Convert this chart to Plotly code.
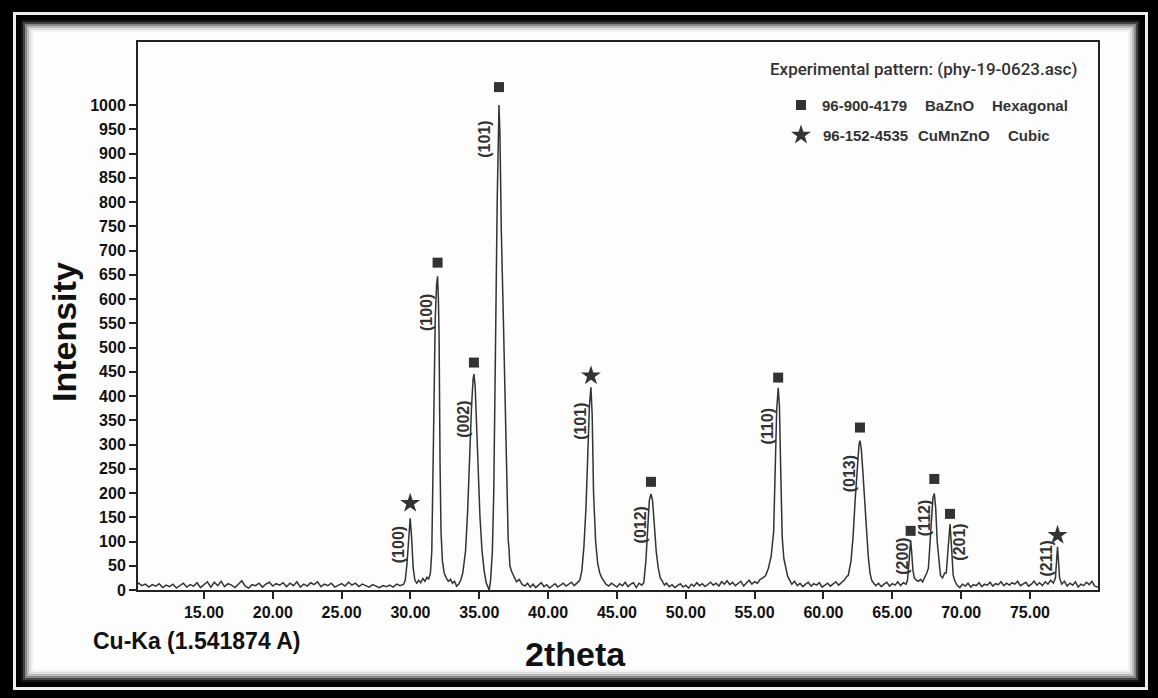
import plotly.graph_objects as go

# ---------------- DATA ----------------
bg_a = [(10.21, 12), (10.25, 14), (10.5, 9), (10.75, 12), (11.0, 6), (11.25, 11), (11.5, 8), (11.75, 13),
        (12.0, 5), (12.25, 10), (12.5, 7), (12.75, 12), (13.0, 4), (13.25, 9), (13.5, 14), (13.75, 6),
        (14.0, 11), (14.25, 8), (14.5, 15), (14.75, 5), (15.0, 12), (15.25, 17), (15.5, 6), (15.75, 16),
        (16.0, 9), (16.25, 18), (16.5, 7), (16.75, 13), (17.0, 10), (17.25, 5), (17.5, 12), (17.75, 19),
        (18.0, 8), (18.25, 4), (18.5, 11), (18.75, 9), (19.0, 14), (19.25, 6), (19.5, 12), (19.75, 16),
        (20.0, 8), (20.25, 13), (20.5, 10), (20.75, 15), (21.0, 7), (21.25, 14), (21.5, 9), (21.75, 17),
        (22.0, 6), (22.25, 12), (22.5, 8), (22.75, 15), (23.0, 11), (23.25, 17), (23.5, 7), (23.75, 12),
        (24.0, 9), (24.25, 14), (24.5, 6), (24.75, 10), (25.0, 13), (25.25, 8), (25.5, 16), (25.75, 10),
        (26.0, 14), (26.25, 7), (26.5, 12), (26.75, 9), (27.0, 6), (27.25, 11), (27.5, 8), (27.75, 5),
        (28.0, 9), (28.25, 7), (28.5, 10), (28.75, 6), (29.0, 12), (29.25, 9)]
pk_29 = [(29.5, 12), (29.62, 20), (29.75, 55), (29.87, 115), (29.98, 148), (30.08, 110), (30.2, 45),
         (30.32, 20), (30.45, 14), (30.6, 20), (30.75, 15), (30.9, 24), (31.05, 18), (31.2, 26), (31.32, 22)]
pk_31 = [(31.45, 35), (31.55, 80), (31.64, 250), (31.72, 450), (31.8, 560), (31.9, 630), (31.97, 647),
         (32.03, 600), (32.08, 522), (32.15, 260), (32.22, 120), (32.32, 60), (32.45, 35), (32.6, 25),
         (32.75, 18), (32.9, 22), (33.05, 14), (33.2, 18), (33.35, 8), (33.5, 12), (33.65, 20)]
pk_34 = [(33.8, 35), (34.0, 80), (34.15, 160), (34.3, 290), (34.44, 380), (34.55, 435), (34.61, 445),
         (34.7, 420), (34.8, 340), (34.92, 254), (35.05, 150), (35.2, 80), (35.35, 40), (35.5, 15),
         (35.62, 4), (35.72, 0)]
pk_36 = [(35.82, 20), (35.95, 80), (36.05, 200), (36.12, 330), (36.2, 557), (36.3, 800), (36.38, 960),
         (36.43, 1000), (36.5, 940), (36.6, 740), (36.75, 557), (36.85, 420), (36.93, 310), (37.0, 170),
         (37.05, 115), (37.1, 103), (37.16, 85), (37.22, 50), (37.35, 38), (37.5, 28), (37.7, 17),
         (37.9, 22), (38.1, 12)]
bg_b = [(38.3, 8), (38.5, 14), (38.7, 6), (38.9, 12), (39.1, 5), (39.3, 10), (39.5, 15), (39.7, 7),
        (39.9, 11), (40.1, 4), (40.3, 9), (40.5, 13), (40.7, 6), (40.9, 10), (41.1, 14), (41.3, 8),
        (41.5, 12), (41.7, 16), (41.9, 9), (42.1, 15), (42.3, 20)]
pk_43 = [(42.45, 40), (42.6, 90), (42.75, 170), (42.9, 290), (43.0, 380), (43.11, 418), (43.2, 360),
         (43.3, 200), (43.45, 100), (43.6, 55), (43.75, 35), (43.9, 25), (44.05, 18)]
bg_c = [(44.2, 12), (44.4, 8), (44.6, 14), (44.8, 10), (45.0, 6), (45.2, 13), (45.4, 9), (45.6, 16),
        (45.8, 7), (46.0, 12), (46.2, 15), (46.4, 5), (46.6, 14), (46.8, 10)]
pk_47 = [(46.95, 15), (47.1, 60), (47.22, 130), (47.35, 185), (47.47, 198), (47.58, 185), (47.7, 140),
         (47.85, 80), (48.0, 45), (48.15, 25), (48.3, 18), (48.45, 10)]
bg_d = [(48.6, 14), (48.8, 7), (49.0, 11), (49.2, 5), (49.4, 9), (49.6, 13), (49.8, 6), (50.0, 10),
        (50.2, 4), (50.4, 12), (50.6, 8), (50.8, 15), (51.0, 9), (51.2, 13), (51.4, 7), (51.6, 11),
        (51.8, 16), (52.0, 10), (52.2, 14), (52.4, 8), (52.6, 17), (52.8, 12), (53.0, 19), (53.2, 11),
        (53.4, 16), (53.6, 9), (53.8, 14), (54.0, 18), (54.2, 8), (54.4, 13), (54.6, 20), (54.8, 12),
        (55.0, 17), (55.2, 14), (55.4, 22), (55.6, 25)]
pk_56 = [(55.8, 30), (56.0, 45), (56.2, 70), (56.38, 120), (56.5, 230), (56.6, 370), (56.71, 417),
         (56.8, 380), (56.9, 240), (57.0, 110), (57.12, 65), (57.25, 45), (57.4, 28), (57.55, 20)]
bg_e = [(57.7, 12), (57.9, 18), (58.1, 9), (58.3, 14), (58.5, 7), (58.7, 12), (58.9, 16), (59.1, 8),
        (59.3, 13), (59.5, 10), (59.7, 15), (59.9, 6), (60.1, 11), (60.3, 14), (60.5, 8), (60.7, 12),
        (60.9, 17), (61.1, 10), (61.3, 15), (61.5, 20), (61.7, 28)]
pk_62 = [(61.8, 30), (62.0, 60), (62.15, 110), (62.3, 185), (62.45, 250), (62.58, 300), (62.65, 308),
         (62.75, 290), (62.87, 240), (63.0, 185), (63.12, 120), (63.25, 70), (63.38, 35), (63.5, 20),
         (63.65, 14)]
bg_f = [(63.8, 9), (64.0, 14), (64.2, 7), (64.4, 12), (64.6, 16), (64.8, 8), (65.0, 13), (65.2, 10),
        (65.4, 17), (65.6, 9), (65.8, 15), (66.0, 12)]
pk_66 = [(66.1, 20), (66.2, 55), (66.28, 90), (66.33, 102), (66.4, 80), (66.5, 40), (66.6, 25),
         (66.75, 20), (66.9, 18), (67.05, 22), (67.2, 17), (67.35, 25), (67.5, 35)]
pk_68 = [(67.62, 45), (67.73, 100), (67.85, 150), (67.95, 190), (68.05, 199), (68.15, 170), (68.26, 100),
         (68.38, 55), (68.5, 30), (68.65, 25), (68.8, 35)]
pk_69 = [(68.92, 35), (69.05, 90), (69.19, 136), (69.3, 90), (69.42, 30), (69.55, 18)]
bg_g = [(69.7, 10), (69.9, 5), (70.1, 12), (70.3, 8), (70.5, 14), (70.7, 6), (70.9, 11), (71.1, 9),
        (71.3, 15), (71.5, 7), (71.7, 12), (71.9, 10), (72.1, 16), (72.3, 8), (72.5, 13), (72.7, 11),
        (72.9, 17), (73.1, 9), (73.3, 14), (73.5, 10), (73.7, 15), (73.9, 12), (74.1, 18), (74.3, 9),
        (74.5, 13), (74.7, 16), (74.9, 8), (75.1, 12), (75.3, 18), (75.5, 10), (75.7, 15), (75.9, 9),
        (76.1, 17), (76.3, 12), (76.5, 20), (76.7, 14)]
pk_77 = [(76.85, 25), (76.93, 65), (77.0, 89), (77.07, 60), (77.15, 25), (77.3, 12)]
bg_h = [(77.5, 18), (77.7, 8), (77.9, 14), (78.1, 10), (78.3, 17), (78.5, 6), (78.7, 12), (78.9, 9),
        (79.1, 16), (79.3, 11), (79.5, 18), (79.7, 8), (79.94, 6)]

segments = [bg_a, pk_29, pk_31, pk_34, pk_36, bg_b, pk_43, bg_c, pk_47, bg_d, pk_56, bg_e,
            pk_62, bg_f, pk_66, pk_68, pk_69, bg_g, pk_77, bg_h]
two_theta = [p[0] for s in segments for p in s]
intensity = [p[1] for s in segments for p in s]

# BaZnO (hexagonal) peak markers and hkl labels
hex_x = [31.97, 34.61, 36.43, 47.47, 56.71, 62.65, 66.33, 68.05, 69.19]
hex_y = [675, 469, 1037, 223, 438, 335, 122, 229, 157]
hex_labels = ["(100)", "(002)", "(101)", "(012)", "(110)", "(013)", "(200)", "(112)", "(201)"]
hex_label_x = [31.13, 33.89, 35.36, 46.74, 55.92, 61.87, 65.68, 67.30, 69.86]
hex_label_y = [571, 351, 929, 135, 338, 239, 70, 148, 98]

# CuMnZnO (cubic) peak markers and hkl labels
cub_x = [29.98, 43.11, 77.0]
cub_y = [179, 442, 113]
cub_labels = ["(100)", "(101)", "(211)"]
cub_label_x = [29.19, 42.36, 76.21]
cub_label_y = [93, 348, 64]

y_ticks = list(range(0, 1001, 50))
x_ticks = [15, 20, 25, 30, 35, 40, 45, 50, 55, 60, 65, 70, 75]
x_range = [10.21, 79.94]
y_range = [0, 1130]

# ---------------- LAYOUT HELPERS ----------------
W, H = 1158, 698
L, R, T, B = 138, 1098, 42, 590


def px(xp):
    return (xp - L) / (R - L)


def py(yp):
    return (B - yp) / (B - T)


def dx(xp):
    return x_range[0] + (xp - L) / (R - L) * (x_range[1] - x_range[0])


def dy(yp):
    return y_range[0] + (B - yp) / (B - T) * (y_range[1] - y_range[0])


ARIAL = "Liberation Sans, Arial, sans-serif"
NARROW = "Roboto, Liberation Sans Narrow, Arial Narrow, sans-serif"
INK = "#333333"

fig = go.Figure()
fig.add_trace(go.Scatter(x=two_theta, y=intensity, mode="lines",
                         line=dict(color="#333333", width=1.5), hoverinfo="skip"))
fig.add_trace(go.Scatter(x=hex_x, y=hex_y, mode="markers",
                         marker=dict(symbol="square", size=10, color=INK)))
fig.add_trace(go.Scatter(x=cub_x, y=cub_y, mode="markers",
                         marker=dict(symbol="star", size=15, color=INK)))
# legend markers
fig.add_trace(go.Scatter(x=[dx(801)], y=[dy(105)], mode="markers",
                         marker=dict(symbol="square", size=10, color=INK), cliponaxis=False))
fig.add_trace(go.Scatter(x=[dx(801)], y=[dy(135)], mode="markers",
                         marker=dict(symbol="star", size=15, color=INK), cliponaxis=False))

annotations = []
for lx, ly, t in zip(hex_label_x + cub_label_x, hex_label_y + cub_label_y, hex_labels + cub_labels):
    annotations.append(dict(x=lx, y=ly, xref="x", yref="y", text=t, textangle=-90, showarrow=False,
                            font=dict(family=ARIAL, size=16, color=INK, weight="bold"),
                            xanchor="center", yanchor="middle"))

# legend texts
annotations.append(dict(x=px(1079), y=py(69), xref="paper", yref="paper",
                        text="Experimental pattern: (phy-19-0623.asc)", showarrow=False,
                        xanchor="right", yanchor="middle",
                        font=dict(family=NARROW, size=17, color=INK, weight=500)))
legend_rows = [
    [(820, "96-900-4179"), (923, "BaZnO"), (990, "Hexagonal")],
    [(821, "96-152-4535"), (916, "CuMnZnO"), (1006, "Cubic")],
]
for yrow, row in zip([105, 135], legend_rows):
    for xp, t in row:
        annotations.append(dict(x=px(xp), y=py(yrow), xref="paper", yref="paper", text=t,
                                showarrow=False, xanchor="left", yanchor="middle",
                                font=dict(family=ARIAL, size=15, color=INK, weight="bold")))

# axis titles and wavelength note
annotations.append(dict(x=px(64), y=py(332), xref="paper", yref="paper", text="Intensity",
                        textangle=-90, showarrow=False, xanchor="center", yanchor="middle",
                        font=dict(family=ARIAL, size=34, color="#111111", weight="bold")))
annotations.append(dict(x=px(575), y=py(654), xref="paper", yref="paper", text="2theta",
                        showarrow=False, xanchor="center", yanchor="middle",
                        font=dict(family=ARIAL, size=34, color="#111111", weight="bold")))
annotations.append(dict(x=px(91), y=py(641), xref="paper", yref="paper", text="Cu-Ka (1.541874 A)",
                        showarrow=False, xanchor="left", yanchor="middle",
                        font=dict(family=ARIAL, size=23, color="#111111", weight="bold")))

# frame shapes
shapes = []


def rect(x0, y0, x1, y1, color):
    shapes.append(dict(type="rect", xref="paper", yref="paper", layer="below",
                       x0=px(x0), x1=px(x1), y0=py(y1), y1=py(y0),
                       fillcolor=color, line=dict(width=0)))


rect(13, 12, 1148, 690, "#eeeeee")
rect(16, 15, 1145, 687, "#000000")
rect(21, 20, 1140, 682, "#151515")
rect(23, 22, 1138, 680, "#444444")
rect(25, 24, 1136, 678, "#888888")
rect(27, 26, 1134, 676, "#bbbbbb")
rect(29, 28, 1132, 674, "#dddddd")
rect(31, 30, 1130, 672, "#f2f2f2")
rect(33, 32, 1128, 670, "#fdfdfd")

fig.update_layout(
    width=W, height=H,
    margin=dict(l=L, r=W - R, t=T, b=H - B, pad=0),
    paper_bgcolor="#000000", plot_bgcolor="#ffffff",
    showlegend=False,
    annotations=annotations, shapes=shapes,
    xaxis=dict(range=x_range, tickvals=x_ticks, ticktext=[f"{v:.2f}" for v in x_ticks],
               ticks="outside", ticklen=7, tickwidth=1.5, tickcolor="#222222",
               showline=True, linewidth=2, linecolor="#222222", mirror=True,
               showgrid=False, zeroline=False,
               tickfont=dict(family=ARIAL, size=16, color="#111111", weight="bold")),
    yaxis=dict(range=y_range, tickvals=y_ticks, ticktext=[str(v) for v in y_ticks],
               ticks="outside", ticklen=7, tickwidth=1.5, tickcolor="#222222",
               showline=True, linewidth=2, linecolor="#222222", mirror=True,
               showgrid=False, zeroline=False,
               tickfont=dict(family=ARIAL, size=16, color="#111111", weight="bold")),
)

fig.write_html("out.html")
